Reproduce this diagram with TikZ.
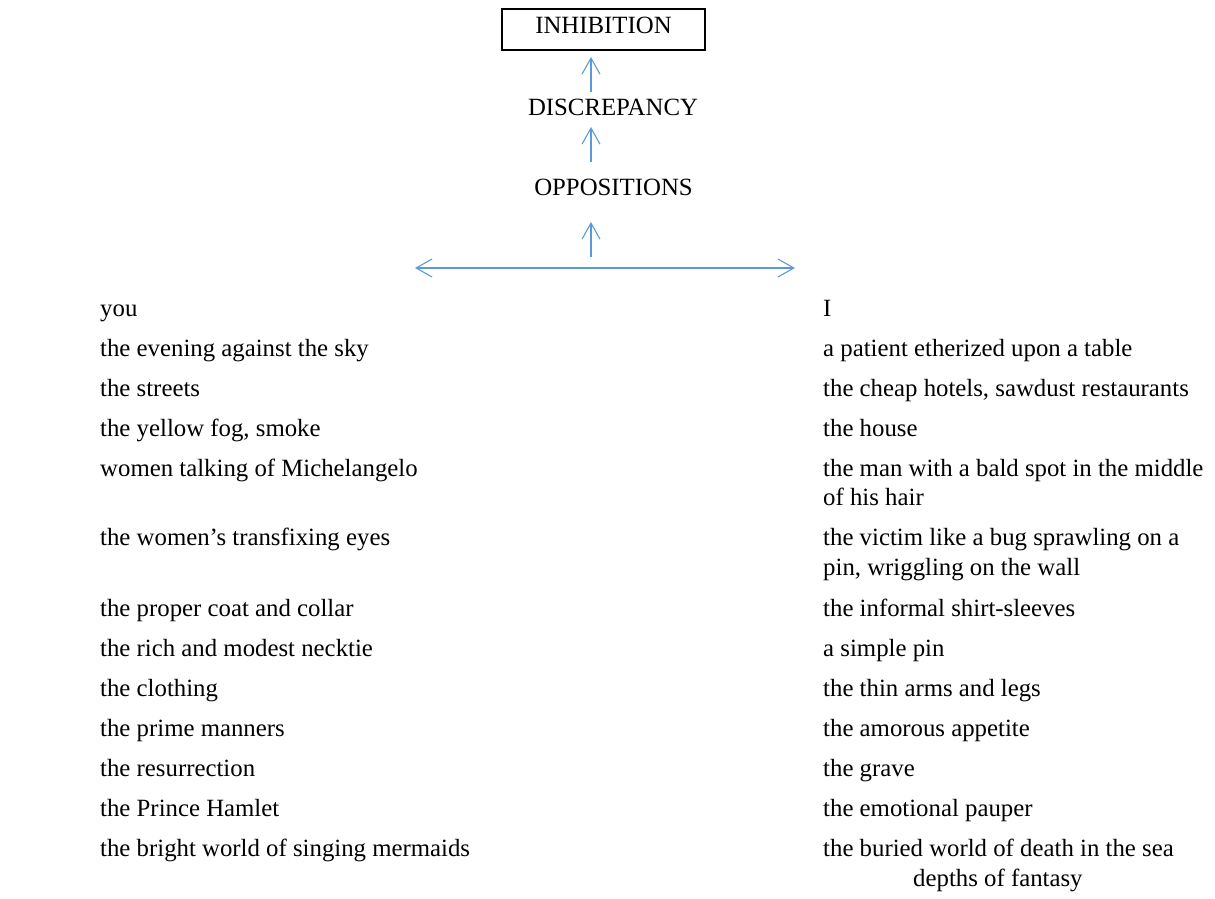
\documentclass[tikz,border=0pt]{standalone}
\usepackage{fontspec}
\setmainfont{Liberation Serif}
\usetikzlibrary{arrows.meta}
\definecolor{arrblue}{HTML}{5B9BD5}
\begin{document}
\begin{tikzpicture}[x=1pt,y=-1pt,
  txt/.style={inner sep=0pt,anchor=base west,font=\fontsize{24.8}{28.5}\selectfont},
  ctr/.style={inner sep=0pt,anchor=base,font=\fontsize{24.8}{28.5}\selectfont},
  arr/.style={draw=arrblue,line width=1.1pt,-{Straight Barb[length=16pt,width=18pt,line width=1.1pt]}},
  darr/.style={draw=arrblue,line width=1.1pt,{Straight Barb[length=16pt,width=18pt,line width=1.1pt]}-{Straight Barb[length=16pt,width=18pt,line width=1.1pt]}}]
\useasboundingbox (0,0) rectangle (1215,898);
% top
\node[ctr] (inh) at (603.5,33) {INHIBITION};
\draw[line width=1.6pt] (502,9) rectangle (705,50);
\node[ctr] (dis) at (613,115) {DISCREPANCY};
\node[ctr] (opp) at (613.5,195) {OPPOSITIONS};
\coordinate (a1t) at (591,92); \coordinate (a1h) at (591,57);
\coordinate (a2t) at (591,162); \coordinate (a2h) at (591,127);
\coordinate (a3t) at (591,257); \coordinate (a3h) at (591,222);
\coordinate (hl) at (415,268); \coordinate (hr) at (795,268);
\draw[arr] (a1t) -- (a1h);
\draw[arr] (a2t) -- (a2h);
\draw[arr] (a3t) -- (a3h);
\draw[darr] (hl) -- (hr);
% left column
\node[txt] (l1) at (100,316) {you};
\node[txt] (l2) at (100,356) {the evening against the sky};
\node[txt] (l3) at (100,396) {the streets};
\node[txt] (l4) at (100,436) {the yellow fog, smoke};
\node[txt] (l5) at (100,476) {women talking of Michelangelo};
\node[txt] (l6) at (100,545) {the women’s transfixing eyes};
\node[txt] (l7) at (100,616) {the proper coat and collar};
\node[txt] (l8) at (100,656) {the rich and modest necktie};
\node[txt] (l9) at (100,696) {the clothing};
\node[txt] (l10) at (100,736) {the prime manners};
\node[txt] (l11) at (100,776) {the resurrection};
\node[txt] (l12) at (100,816) {the Prince Hamlet};
\node[txt] (l13) at (100,856) {the bright world of singing mermaids};
% right column
\node[txt] (r1) at (823,316) {I};
\node[txt] (r2) at (823,356) {a patient etherized upon a table};
\node[txt] (r3) at (823,396) {the cheap hotels, sawdust restaurants};
\node[txt] (r4) at (823,436) {the house};
\node[txt] (r5) at (823,476) {the man with a bald spot in the middle};
\node[txt] (r5b) at (823,505) {of his hair};
\node[txt] (r6) at (823,545) {the victim like a bug sprawling on a};
\node[txt] (r6b) at (823,575) {pin, wriggling on the wall};
\node[txt] (r7) at (823,616) {the informal shirt-sleeves};
\node[txt] (r8) at (823,656) {a simple pin};
\node[txt] (r9) at (823,696) {the thin arms and legs};
\node[txt] (r10) at (823,736) {the amorous appetite};
\node[txt] (r11) at (823,776) {the grave};
\node[txt] (r12) at (823,816) {the emotional pauper};
\node[txt] (r13) at (823,856) {the buried world of death in the sea};
\node[txt] (r13b) at (913,886) {depths of fantasy};
\end{tikzpicture}
\end{document}
